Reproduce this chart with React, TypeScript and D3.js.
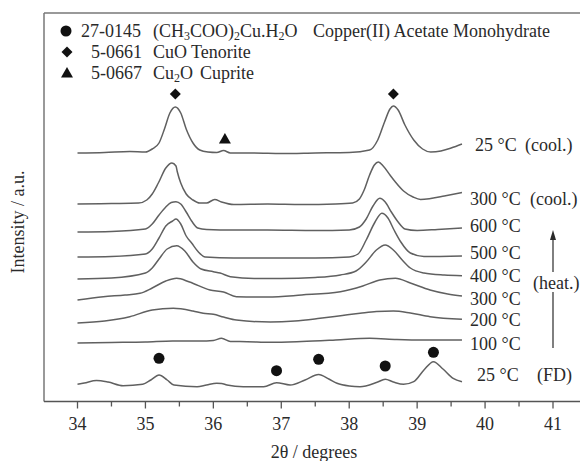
import React from 'react';
import * as d3 from 'd3';

// 2θ (deg) / intensity (a.u.) pairs, one trace per temperature
const trace25Cool = [
  [34.0, 249], [34.4, 249.5], [34.77, 250.5], [35.0, 250], [35.1, 253], [35.2, 259], [35.28, 273],
  [35.36, 289], [35.44, 295], [35.52, 289], [35.6, 273], [35.7, 259], [35.8, 252], [35.92, 250],
  [36.05, 249.5], [36.15, 251.5], [36.25, 249], [36.6, 249], [37.0, 248.5], [37.5, 249], [38.0, 249.5],
  [38.3, 252], [38.42, 262], [38.52, 280], [38.6, 293], [38.65, 296], [38.72, 292], [38.82, 277],
  [38.95, 262], [39.08, 253], [39.2, 250], [39.35, 251], [39.5, 254], [39.66, 258],
];
const trace300Cool = [
  [34.0, 198], [34.5, 198.5], [34.9, 199], [35.02, 202], [35.1, 208], [35.19, 219], [35.3, 234],
  [35.39, 239], [35.45, 236], [35.47, 230], [35.52, 219], [35.6, 208], [35.7, 202], [35.8, 199],
  [35.9, 199], [36.02, 202.5], [36.12, 200], [36.3, 197.5], [36.8, 198], [37.3, 197.5], [37.8, 198],
  [38.05, 199], [38.15, 203], [38.22, 212], [38.3, 227], [38.37, 237], [38.43, 240], [38.5, 236],
  [38.6, 227], [38.68, 220], [38.8, 211], [38.94, 205], [39.05, 202.5], [39.2, 203.5], [39.4, 206],
  [39.66, 209.5],
];
const trace600 = [
  [34.0, 170], [34.5, 170.5], [35.0, 173], [35.1, 178], [35.2, 187], [35.3, 195], [35.38, 199.5],
  [35.45, 200.3], [35.52, 198], [35.6, 190], [35.68, 181], [35.77, 174], [35.9, 172.5], [36.3, 172],
  [36.8, 172], [37.5, 171.5], [38.0, 172], [38.15, 175], [38.25, 183], [38.35, 196], [38.45, 203.7],
  [38.53, 200], [38.62, 190], [38.72, 180], [38.82, 173], [39.0, 171.5], [39.3, 172.5], [39.66, 174],
];
const trace500 = [
  [34.0, 145], [34.5, 145.5], [35.0, 148], [35.1, 153], [35.2, 164], [35.3, 176], [35.4, 181],
  [35.45, 183], [35.52, 178], [35.6, 166], [35.68, 159], [35.78, 150], [35.88, 145], [36.3, 144],
  [36.8, 144], [37.5, 144], [38.0, 145], [38.13, 148], [38.25, 162], [38.38, 180], [38.48, 188.7],
  [38.57, 184], [38.66, 172], [38.76, 160], [38.9, 149], [39.1, 145.5], [39.66, 146],
];
const trace400 = [
  [34.0, 123], [34.5, 124], [35.0, 129], [35.1, 134], [35.2, 143], [35.32, 153], [35.46, 156.3],
  [35.58, 151], [35.7, 140], [35.82, 133], [36.0, 130.3], [36.1, 129], [36.25, 125.3], [36.6, 123.5],
  [37.0, 123.5], [37.5, 124.5], [37.87, 127], [38.1, 131], [38.25, 140], [38.4, 152], [38.53, 157],
  [38.65, 152], [38.78, 142], [38.9, 134], [39.1, 129], [39.4, 127], [39.66, 126.3],
];
const trace300Heat = [
  [34.0, 102], [34.38, 105.3], [34.7, 107], [34.92, 108.7], [35.1, 114], [35.3, 121], [35.46, 123.7],
  [35.65, 120], [35.95, 112], [36.15, 110], [36.34, 105.3], [36.8, 105], [37.3, 107], [37.87, 110.3],
  [38.2, 116], [38.45, 122], [38.68, 123.7], [38.9, 119], [39.19, 112], [39.45, 108], [39.66, 106],
];
const trace200 = [
  [34.0, 79], [34.4, 81], [34.77, 85.3], [35.1, 92], [35.41, 93.7], [35.7, 91], [35.85, 88.7],
  [36.0, 87.7], [36.15, 85], [36.34, 82], [36.84, 80], [37.2, 81], [37.57, 83.7], [37.9, 86.5],
  [38.16, 88.7], [38.4, 90.5], [38.65, 91], [38.9, 89], [39.19, 85.3], [39.66, 82.7],
];
const trace100 = [
  [34.0, 59], [34.5, 59.5], [35.0, 60], [35.4, 61], [35.8, 61], [36.0, 61.5], [36.12, 63.7],
  [36.25, 60.5], [36.5, 60.3], [36.84, 59.7], [37.3, 60.5], [37.8, 62], [38.3, 63.7], [38.7, 62.5],
  [39.1, 62], [39.66, 62],
];
const trace25FD = [
  [34.0, 17.7], [34.1, 19], [34.28, 21.5], [34.45, 20], [34.67, 16.3], [34.96, 17.7], [35.08, 22],
  [35.2, 27], [35.32, 22], [35.42, 17], [35.76, 15.3], [35.9, 17], [36.05, 18.7], [36.12, 18.5],
  [36.2, 17], [36.44, 15.3], [36.74, 15.3], [36.93, 19.3], [37.13, 17], [37.35, 22], [37.55, 27.5],
  [37.7, 23], [37.82, 18.7], [38.0, 16], [38.16, 15.3], [38.41, 19.7], [38.53, 22.7], [38.65, 20],
  [38.8, 17.7], [38.95, 20.3], [39.1, 32], [39.24, 40.3], [39.38, 33], [39.53, 23.7], [39.66, 20.3],
];

const traces = [trace25Cool, trace300Cool, trace600, trace500, trace400, trace300Heat, trace200, trace100, trace25FD];
const temps = ['25 °C', '300 °C', '600 °C', '500 °C', '400 °C', '300 °C', '200 °C', '100 °C', '25 °C'];
const notes = ['(cool.)', '(cool.)', '', '', '', '', '', '', '(FD)'];

// reference peak markers
const acetatePeaks = [[35.2, 43.7], [36.93, 31.3], [37.55, 42.7], [38.53, 36], [39.24, 49.7]];
const tenoritePeaks = [[35.44, 308], [38.65, 308]];
const cupritePeaks = [[36.17, 263]];

const xTicks = [34, 35, 36, 37, 38, 39, 40, 41];
const xMinor = [34.5, 35.5, 36.5, 37.5, 38.5, 39.5, 40.5];

const legendCodes = ['27-0145', '5-0661', '5-0667'];
const legendNames = ['Copper(II) Acetate Monohydrate', 'Tenorite', 'Cuprite'];

// layout
const W = 580;
const H = 461;
const left = 44;
const top = 13;
const axisY = 401.5;
const labelLevels = [257, 203, 176, 149, 126, 103, 82, 58, 27];
const font = '"Liberation Serif", "Times New Roman", serif';
const ink = '#2a2a2a';
const lineCol = '#606060';

const xScale = d3.scaleLinear().domain([34, 41]).range([77.5, 553]);
const yScale = d3.scaleLinear().domain([0, 389]).range([402, 13]);

const line = d3.line<number[]>()
  .x(d => xScale(d[0]))
  .y(d => yScale(d[1]))
  .curve(d3.curveMonotoneX);

const diamond = d3.symbol().type(d3.symbolSquare).size(60)();
const triangle = d3.symbol().type(d3.symbolTriangle).size(62)();

const Sub = ({ children }) => <tspan fontSize={12} dy={3}>{children}</tspan>;

export default function App() {
  return (
    <svg width={W} height={H} style={{ position: 'absolute', left: 0, top: 0, background: '#fff' }}
      fontFamily={font} fill={ink}>
      {/* frame */}
      <line x1={left} x2={W} y1={top} y2={top} stroke="#777" strokeWidth={1.5} />
      <line x1={left} x2={left} y1={top} y2={axisY} stroke="#777" strokeWidth={1.5} />
      <line x1={left} x2={W} y1={axisY} y2={axisY} stroke="#555" strokeWidth={1.5} />
      {xTicks.map(t => (
        <g key={t} transform={`translate(${xScale(t)},0)`}>
          <line y1={axisY} y2={axisY + 7} stroke="#555" strokeWidth={1.3} />
          <text y={axisY + 28} textAnchor="middle" fontSize={18}>{t}</text>
        </g>
      ))}
      {xMinor.map(t => (
        <line key={t} x1={xScale(t)} x2={xScale(t)} y1={axisY} y2={axisY + 5} stroke="#555" strokeWidth={1.3} />
      ))}
      <text x={314} y={458} textAnchor="middle" fontSize={18}>2θ / degrees</text>
      <text transform="translate(24,222) rotate(-90)" textAnchor="middle" fontSize={18}>Intensity / a.u.</text>

      {/* legend */}
      <circle cx={66} cy={31} r={5.5} fill="#111" />
      <path d={diamond} transform="translate(67,52) rotate(45)" fill="#111" />
      <path d={triangle} transform="translate(67,74)" fill="#111" />
      <g fontSize={18}>
        <text x={81} y={37}>{legendCodes[0]}</text>
        <text x={153} y={37}>(CH<Sub>3</Sub><tspan dy={-3}>COO)</tspan><Sub>2</Sub><tspan dy={-3}>Cu.H</tspan><Sub>2</Sub><tspan dy={-3}>O</tspan></text>
        <text x={313} y={37}>{legendNames[0]}</text>
        <text x={91} y={58}>{legendCodes[1]}</text>
        <text x={153} y={58}>CuO</text>
        <text x={191} y={58}>{legendNames[1]}</text>
        <text x={91} y={79}>{legendCodes[2]}</text>
        <text x={153} y={79}>Cu<Sub>2</Sub><tspan dy={-3}>O</tspan></text>
        <text x={200} y={79}>{legendNames[2]}</text>
      </g>

      {/* traces */}
      {traces.map((t, i) => (
        <path key={i} d={line(t)} fill="none" stroke={lineCol} strokeWidth={1.5} />
      ))}
      {acetatePeaks.map((p, i) => (
        <circle key={i} cx={xScale(p[0])} cy={yScale(p[1])} r={5.5} fill="#111" />
      ))}
      {tenoritePeaks.map((p, i) => (
        <path key={i} d={diamond} transform={`translate(${xScale(p[0])},${yScale(p[1])}) rotate(45)`} fill="#111" />
      ))}
      {cupritePeaks.map((p, i) => (
        <path key={i} d={triangle} transform={`translate(${xScale(p[0])},${yScale(p[1]) + 1})`} fill="#111" />
      ))}

      {/* trace labels */}
      <g fontSize={18}>
        {temps.map((t, i) => {
          const y = yScale(labelLevels[i]) + 6;
          const x = i === 0 ? 475 : i === 8 ? 477 : 470;
          return (
            <g key={i}>
              <text x={x} y={y}>{t}</text>
              {notes[i] && <text x={i === 8 ? 537 : i === 0 ? 525 : 530} y={y}>{notes[i]}</text>}
            </g>
          );
        })}
        <text x={533} y={289}>(heat.)</text>
      </g>
      <line x1={553} x2={553} y1={348} y2={292} stroke={ink} strokeWidth={1.2} />
      <line x1={553} x2={553} y1={272} y2={238} stroke={ink} strokeWidth={1.2} />
      <path d="M553,230 L550,240 L556,240 Z" fill={ink} />
    </svg>
  );
}
